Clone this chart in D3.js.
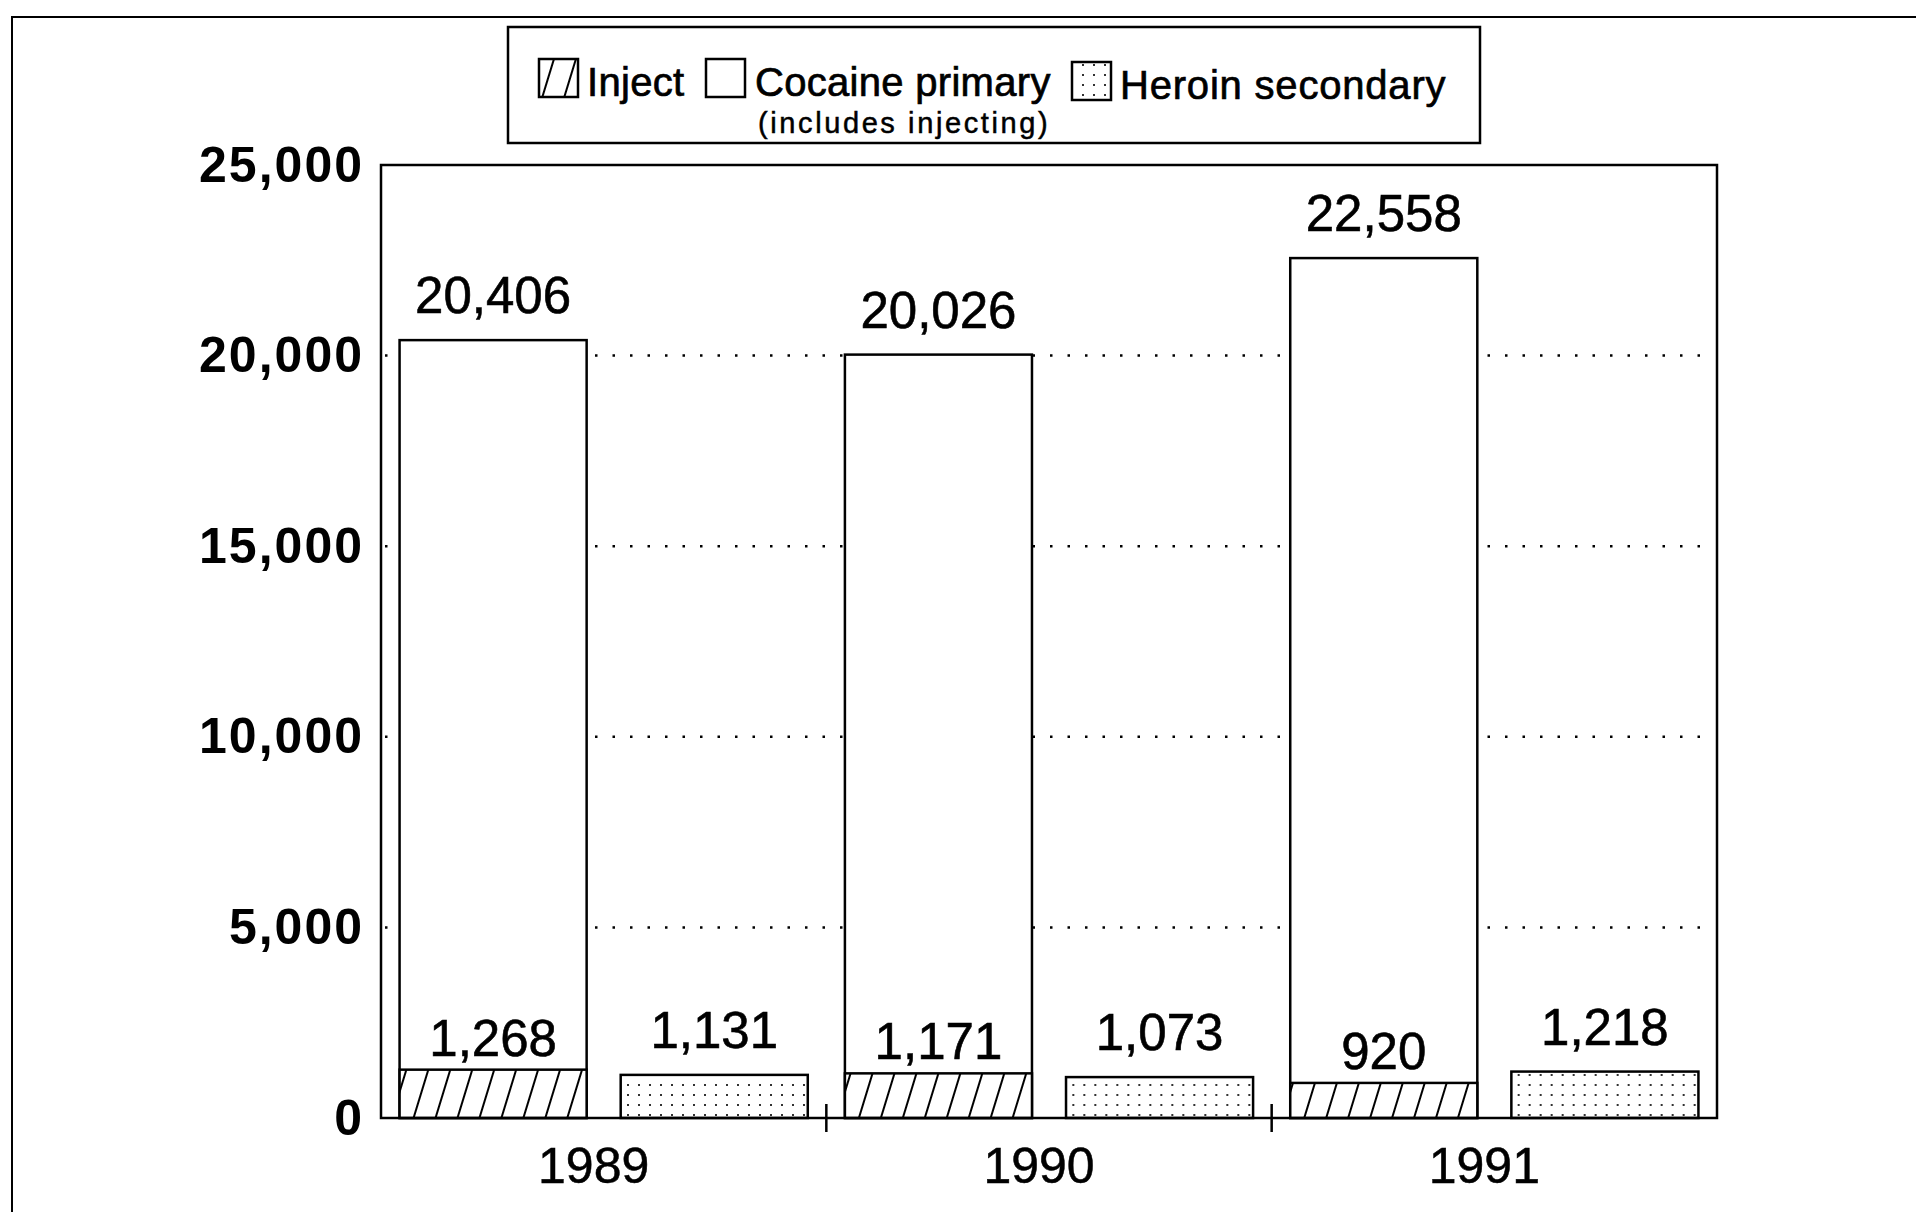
<!DOCTYPE html>
<html>

<head>
    <title>Inject / Cocaine primary / Heroin secondary</title>
    <script src="https://cdn.jsdelivr.net/npm/d3@7"></script>
    <style>
        body {
            margin: 0;
            background: #ffffff;
            font-family: 'Liberation Sans', Arial, Helvetica, sans-serif;
        }
    </style>
</head>

<body>
    <div id="visDiv"></div>
</body>
<script>
    /* Data */
    var years = ["1989", "1990", "1991"];
    var cocaine = [20406, 20026, 22558];
    var inject = [1268, 1171, 920];
    var heroin = [1131, 1073, 1218];
    var yTicks = [0, 5000, 10000, 15000, 20000, 25000];
    var gridTicks = [5000, 10000, 15000, 20000];
    var legendItems = ["Inject", "Cocaine primary", "Heroin secondary"];
    var legendNote = "(includes injecting)";

    /* Layout constants */
    var width = 1916, height = 1212;
    var plot = { left: 381, right: 1717, top: 165, bottom: 1118 };

    var svg = d3.select("#visDiv")
        .append("svg")
        .attr("width", width)
        .attr("height", height);

    var defs = svg.append("defs");

    // hatch for Inject
    var hatch = defs.append("pattern")
        .attr("id", "hatch")
        .attr("patternUnits", "userSpaceOnUse")
        .attr("width", 21)
        .attr("height", 21)
        .attr("patternTransform", "rotate(17)");
    hatch.append("rect").attr("width", 21).attr("height", 21).attr("fill", "white");
    hatch.append("line")
        .attr("x1", 1).attr("y1", 0).attr("x2", 1).attr("y2", 21)
        .attr("stroke", "black").attr("stroke-width", 2);

    // dots for Heroin
    var dots = defs.append("pattern")
        .attr("id", "dots")
        .attr("patternUnits", "userSpaceOnUse")
        .attr("width", 11)
        .attr("height", 10);
    dots.append("rect").attr("width", 11).attr("height", 10).attr("fill", "white");
    dots.append("rect")
        .attr("x", 4).attr("y", 4).attr("width", 2).attr("height", 2)
        .attr("fill", "#333");

    /* Page frame */
    svg.append("rect")
        .attr("x", 12).attr("y", 17)
        .attr("width", width).attr("height", height)
        .attr("fill", "none")
        .attr("stroke", "black")
        .attr("stroke-width", 2);

    /* Scales */
    var x0 = d3.scaleBand()
        .domain(years)
        .range([plot.left, plot.right]);
    var x1 = d3.scaleBand()
        .domain(["cocaine", "heroin"])
        .range([0, x0.bandwidth()])
        .paddingInner(0.154)
        .paddingOuter(0.084);
    var y = d3.scaleLinear()
        .domain([0, 25000])
        .range([plot.bottom, plot.top]);

    var data = years.map(function (yr, i) {
        return { year: yr, cocaine: cocaine[i], inject: inject[i], heroin: heroin[i] };
    });

    /* Dotted grid */
    svg.selectAll(".grid")
        .data(gridTicks)
        .enter()
        .append("line")
        .attr("class", "grid")
        .attr("x1", plot.left + 4)
        .attr("x2", plot.right - 4)
        .attr("y1", function (d) { return y(d) })
        .attr("y2", function (d) { return y(d) })
        .attr("stroke", "black")
        .attr("stroke-width", 2.5)
        .attr("stroke-dasharray", "2.5 15");

    /* Bars */
    var groups = svg.selectAll(".year")
        .data(data)
        .enter()
        .append("g")
        .attr("class", "year")
        .attr("transform", function (d) { return "translate(" + x0(d.year) + ",0)" });

    groups.append("rect")
        .attr("x", x1("cocaine"))
        .attr("width", x1.bandwidth())
        .attr("y", function (d) { return y(d.cocaine) })
        .attr("height", function (d) { return y(0) - y(d.cocaine) })
        .attr("fill", "white")
        .attr("stroke", "black")
        .attr("stroke-width", 2.5);

    groups.append("rect")
        .attr("x", x1("cocaine"))
        .attr("width", x1.bandwidth())
        .attr("y", function (d) { return y(d.inject) })
        .attr("height", function (d) { return y(0) - y(d.inject) })
        .attr("fill", "url(#hatch)")
        .attr("stroke", "black")
        .attr("stroke-width", 2.5);

    groups.append("rect")
        .attr("x", x1("heroin"))
        .attr("width", x1.bandwidth())
        .attr("y", function (d) { return y(d.heroin) })
        .attr("height", function (d) { return y(0) - y(d.heroin) })
        .attr("fill", "url(#dots)")
        .attr("stroke", "black")
        .attr("stroke-width", 2.5);

    /* Value labels */
    var fmt = d3.format(",");
    function label(key, xKey, gap) {
        groups.append("text")
            .attr("x", x1(xKey) + x1.bandwidth() / 2)
            .attr("y", function (d) { return y(d[key]) - gap })
            .attr("text-anchor", "middle")
            .attr("font-size", 51)
            .attr("fill", "black")
            .attr("stroke", "black")
            .attr("stroke-width", 0.6)
            .text(function (d) { return fmt(d[key]) });
    }
    label("cocaine", "cocaine", 27);
    label("inject", "cocaine", 14);
    label("heroin", "heroin", 27);

    /* Frame */
    svg.append("rect")
        .attr("x", plot.left)
        .attr("y", plot.top)
        .attr("width", plot.right - plot.left)
        .attr("height", plot.bottom - plot.top)
        .attr("fill", "none")
        .attr("stroke", "black")
        .attr("stroke-width", 2.5);

    /* Axes */
    var yAxis = d3.axisLeft(y)
        .tickValues(yTicks)
        .tickSize(0)
        .tickPadding(17)
        .tickFormat(fmt);
    var gy = svg.append("g")
        .attr("transform", "translate(" + plot.left + ",0)")
        .call(yAxis);
    gy.select(".domain").remove();
    gy.selectAll("text")
        .attr("font-family", "'Liberation Sans', Arial, sans-serif")
        .attr("font-size", 50)
        .attr("font-weight", "bold")
        .attr("letter-spacing", 2)
        .attr("fill", "black");

    var xAxis = d3.axisBottom(x0)
        .tickSize(0)
        .tickPadding(29);
    var gx = svg.append("g")
        .attr("transform", "translate(0," + plot.bottom + ")")
        .call(xAxis);
    gx.select(".domain").remove();
    gx.selectAll("text")
        .attr("font-family", "'Liberation Sans', Arial, sans-serif")
        .attr("font-size", 50)
        .attr("dx", "-0.2em")
        .attr("fill", "black")
        .attr("stroke", "black")
        .attr("stroke-width", 0.5);

    // separator ticks between years
    svg.selectAll(".sep")
        .data(years.slice(1))
        .enter()
        .append("line")
        .attr("class", "sep")
        .attr("x1", function (d) { return x0(d) })
        .attr("x2", function (d) { return x0(d) })
        .attr("y1", plot.bottom - 14)
        .attr("y2", plot.bottom + 14)
        .attr("stroke", "black")
        .attr("stroke-width", 2.5);

    /* Legend */
    var legend = svg.append("g");
    legend.append("rect")
        .attr("x", 508).attr("y", 27)
        .attr("width", 972).attr("height", 116)
        .attr("fill", "white")
        .attr("stroke", "black")
        .attr("stroke-width", 2.5);

    var swatchX = [539, 706, 1072];
    var swatchY = [59, 59, 62];
    var textX = [587, 755, 1120];
    var fills = ["url(#hatch)", "white", "url(#dots)"];

    legendItems.forEach(function (name, i) {
        legend.append("rect")
            .attr("x", swatchX[i]).attr("y", swatchY[i])
            .attr("width", 39).attr("height", 38)
            .attr("fill", fills[i])
            .attr("stroke", "black")
            .attr("stroke-width", 2.5);
        legend.append("text")
            .attr("x", textX[i])
            .attr("y", swatchY[i] + 37)
            .attr("font-size", 40)
            .attr("letter-spacing", i == 2 ? 0.8 : 0.3)
            .attr("fill", "black")
            .attr("stroke", "black")
            .attr("stroke-width", 0.7)
            .text(name);
    });
    legend.append("text")
        .attr("x", 758)
        .attr("y", 133)
        .attr("font-size", 29)
        .attr("letter-spacing", 2.6)
        .attr("fill", "black")
        .attr("stroke", "black")
        .attr("stroke-width", 0.5)
        .text(legendNote);
</script>

</html>
